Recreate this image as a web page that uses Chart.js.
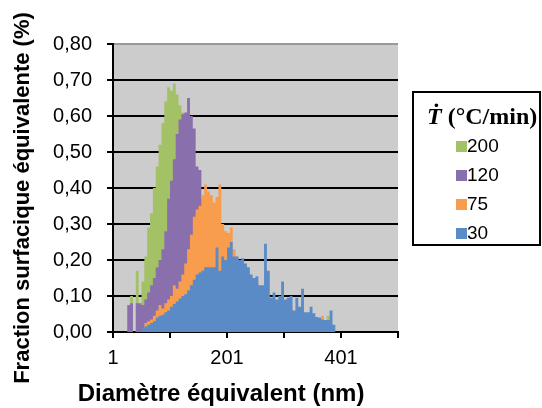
<!DOCTYPE html>
<html>
<head>
<meta charset="utf-8">
<script src="https://cdn.jsdelivr.net/npm/chart.js@4"></script>
<style>
  html, body { margin: 0; padding: 0; background: #fff; }
  canvas { display: block; }
</style>
</head>
<body>
<canvas id="histo" width="542" height="408"></canvas>
<script>
// classes de diamètre : pas de 5 nm, centre de chaque classe
const diametres = Array.from({ length: 80 }, (_, k) => 3.5 + 5 * k);

const vitesses = ['200', '120', '75', '30'];
const couleurs = ['#A3C165', '#8A6FAD', '#F89C4E', '#5A8BC6'];
const graduationsX = [1, 101, 201, 301, 401, 501];
const etiquettesX = [1, 201, 401];
const titreX = 'Diamètre équivalent (nm)';
const titreY = 'Fraction surfacique équivalente (%)';

// fraction surfacique (%) par classe
const v200 = [
  0, 0, 0, 0, 0, 0, 0.10, 0, 0.17, 0,
  0.14, 0.21, 0.29, 0.33, 0.40, 0.46, 0.52, 0.58, 0.64, 0.68,
  0.67, 0.69, 0.66, 0.63, 0.61, 0.56, 0.50, 0.45, 0.40, 0.35,
  0.30, 0.26, 0.22, 0.18, 0.15, 0.13, 0.11, 0.10, 0.09, 0.08,
  0.07, 0.07, 0.06, 0.06, 0.06, 0.05, 0.05, 0.05, 0.05, 0.04,
  0.04, 0.04, 0.04, 0.04, 0.04, 0.04, 0.04, 0.04, 0.04, 0.04,
  0.04, 0.04, 0.04, 0.03, 0.03, 0.03, 0.03, 0.03, 0.03, 0.03,
  0.03, 0.03, 0.03, 0.03, 0.03, 0.045, 0.02, 0, 0, 0
];
const v120 = [
  0, 0, 0, 0, 0, 0.075, 0.08, 0, 0.08, 0.08,
  0.075, 0.09, 0.11, 0.13, 0.15, 0.18, 0.20, 0.23, 0.28, 0.37,
  0.42, 0.48, 0.55, 0.59, 0.605, 0.61, 0.65, 0.60, 0.565, 0.46,
  0.45, 0.37, 0.34, 0.31, 0.28, 0.26, 0.24, 0.22, 0.20, 0.18,
  0.16, 0.15, 0.14, 0.13, 0.12, 0.11, 0.10, 0.09, 0.08, 0.07,
  0.06, 0.05, 0.05, 0.05, 0.05, 0.05, 0.05, 0.05, 0.05, 0.05,
  0.05, 0.05, 0.05, 0.03, 0.03, 0.03, 0.03, 0.03, 0.03, 0.03,
  0.03, 0.03, 0.03, 0.025, 0.025, 0.02, 0, 0, 0, 0
];
const v75 = [
  0, 0, 0, 0, 0, 0, 0, 0, 0, 0,
  0, 0.025, 0.03, 0.035, 0.045, 0.06, 0.075, 0.065, 0.08, 0.09,
  0.10, 0.13, 0.12, 0.14, 0.16, 0.19, 0.23, 0.27, 0.32, 0.34,
  0.35, 0.38, 0.41, 0.39, 0.38, 0.36, 0.375, 0.41, 0.30, 0.28,
  0.275, 0.29, 0.23, 0.21, 0.20, 0.20, 0.18, 0.17, 0.15, 0.14,
  0.14, 0.12, 0.12, 0.10, 0.10, 0.09, 0.09, 0.08, 0.08, 0.08,
  0.07, 0.07, 0.07, 0.05, 0.05, 0.05, 0.05, 0.04, 0.04, 0.04,
  0.04, 0.035, 0.035, 0.045, 0.03, 0.03, 0.02, 0, 0, 0
];
const v30 = [
  0, 0, 0, 0, 0, 0, 0, 0, 0, 0,
  0.012, 0.015, 0.02, 0.025, 0.03, 0.04, 0.045, 0.048, 0.055, 0.06,
  0.07, 0.078, 0.085, 0.093, 0.10, 0.105, 0.115, 0.13, 0.145, 0.16,
  0.165, 0.17, 0.18, 0.18, 0.18, 0.18, 0.235, 0.17, 0.21, 0.20,
  0.235, 0.25, 0.21, 0.21, 0.20, 0.205, 0.19, 0.18, 0.16, 0.15,
  0.155, 0.13, 0.13, 0.245, 0.17, 0.095, 0.11, 0.09, 0.10, 0.14,
  0.09, 0.095, 0.10, 0.06, 0.095, 0.07, 0.12, 0.055, 0.055, 0.07,
  0.052, 0.042, 0.04, 0.035, 0.033, 0.033, 0.06, 0.02, 0, 0
];
const series = [v200, v120, v75, v30];

Chart.defaults.font.family = '"Liberation Sans", Arial, sans-serif';
Chart.defaults.color = '#000';

// fond gris de la zone de tracé
const fondGris = {
  id: 'fondGris',
  beforeDraw(chart) {
    const { ctx, chartArea: a } = chart;
    ctx.save();
    ctx.fillStyle = '#CCCCCC';
    ctx.fillRect(a.left, a.top, a.right - a.left, a.bottom - a.top);
    ctx.restore();
  }
};

// titres des axes (placés comme dans la figure Excel)
const titresAxes = {
  id: 'titresAxes',
  afterDraw(chart) {
    const c = chart.ctx;
    c.save();
    c.fillStyle = '#000';
    c.textAlign = 'center';
    c.textBaseline = 'alphabetic';
    c.font = 'bold 24px "Liberation Sans"';
    c.fillText(titreX, 221, 401);
    c.translate(29, 198);
    c.rotate(-Math.PI / 2);
    c.font = 'bold 22px "Liberation Sans"';
    c.fillText(titreY, 0, 0);
    c.restore();
  }
};

// légende encadrée à droite
const legendeBoite = {
  id: 'legendeBoite',
  afterDraw(chart) {
    const c = chart.ctx;
    c.save();
    c.lineWidth = 2;
    c.strokeStyle = '#000';
    c.strokeRect(413, 92, 127, 153);
    c.fillStyle = '#000';
    c.textBaseline = 'alphabetic';
    let x = 427;
    c.font = 'italic bold 24px "Liberation Serif"';
    c.fillText('Ṫ', x, 124);
    x += c.measureText('Ṫ').width;
    c.font = 'bold 24px "Liberation Serif"';
    c.fillText(' (°C/min)', x, 124);
    chart.data.datasets.forEach((ds, i) => {
      const y = 146 + i * 29;
      c.fillStyle = ds.backgroundColor;
      c.fillRect(456, y - 5, 11, 11);
      c.fillStyle = '#000';
      c.font = '19px "Liberation Sans"';
      c.textBaseline = 'middle';
      c.fillText(ds.label, 467, y + 1);
    });
    c.restore();
  }
};

new Chart(document.getElementById('histo'), {
  type: 'line',
  data: {
    labels: diametres,
    datasets: vitesses.map((v, i) => ({
      label: v,
      data: series[i],
      backgroundColor: couleurs[i],
      borderColor: couleurs[i],
      borderWidth: 0,
      pointRadius: 0,
      stepped: 'middle',
      fill: 'origin',
      order: vitesses.length - i
    }))
  },
  options: {
    responsive: false,
    animation: false,
    layout: { padding: { top: 44, right: 144, left: 0, bottom: 0 } },
    plugins: {
      legend: { display: false },
      tooltip: { enabled: false }
    },
    scales: {
      x: {
        type: 'linear',
        min: 1,
        max: 501,
        offset: false,
        afterBuildTicks: (axis) => { axis.ticks = graduationsX.map(v => ({ value: v })); },
        afterFit: (axis) => { axis.height = 76; },
        ticks: {
          autoSkip: false,
          maxRotation: 0,
          padding: 8,
          font: { size: 20 },
          callback: (v) => etiquettesX.includes(v) ? String(v) : ''
        },
        grid: { drawOnChartArea: false, offset: false, tickLength: 6, color: '#000', lineWidth: 2 },
        border: { color: '#000', width: 2 }
      },
      y: {
        min: 0,
        max: 0.8,
        afterFit: (axis) => { axis.width = 113; },
        ticks: {
          stepSize: 0.1,
          padding: 15,
          font: { size: 20 },
          callback: (v) => v.toFixed(2).replace('.', ',')
        },
        grid: {
          color: (c) => (c.tick && c.tick.value >= 0.8 ? '#999999' : '#000'),
          tickColor: '#000',
          lineWidth: 2,
          tickLength: 6
        },
        border: { color: '#000', width: 2 }
      }
    }
  },
  plugins: [fondGris, titresAxes, legendeBoite]
});
</script>
</body>
</html>
